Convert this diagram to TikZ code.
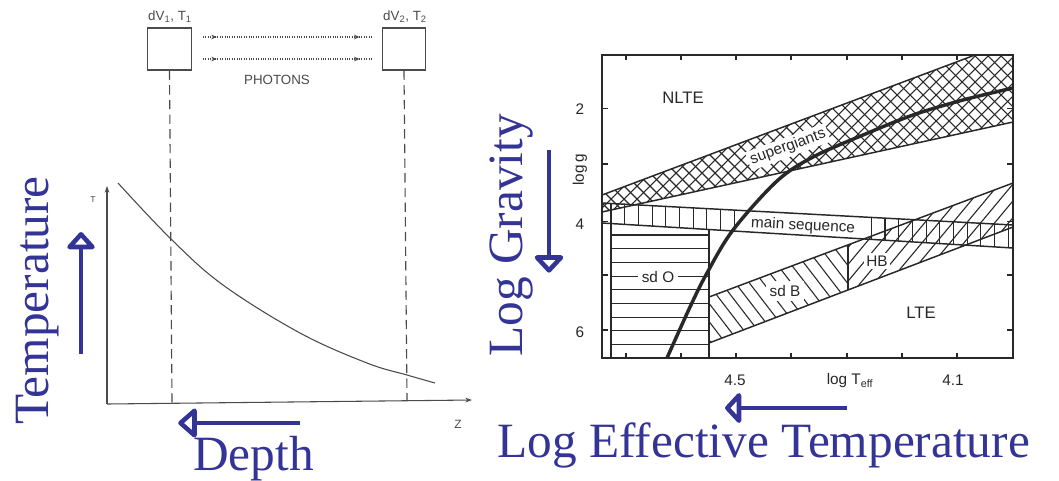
\documentclass[tikz,border=0pt]{standalone}
\usepackage{fontspec}
\setmainfont{Liberation Serif}
\setsansfont{Liberation Sans}
\usetikzlibrary{arrows.meta,decorations.markings}
\definecolor{slideblue}{RGB}{52,52,150}
\definecolor{inkL}{RGB}{75,75,75}
\definecolor{inkR}{RGB}{40,40,40}
\begin{document}
\begin{tikzpicture}[x=0.75pt,y=-0.75pt,
  lline/.style={draw=inkL,line width=0.8pt},
  rline/.style={draw=inkR,line width=1.1pt},
  hatch/.style={draw=inkR,line width=0.8pt},
  volbox/.style={draw=inkL,line width=0.85pt,minimum height=31.5pt,minimum width=32.5pt,inner sep=0pt},
  smalllbl/.style={text=inkL,font=\sffamily\fontsize{10}{11}\selectfont,inner sep=0pt},
  plotlbl/.style={text=inkR,font=\sffamily\fontsize{11.5}{12}\selectfont,inner sep=1pt},
  biglbl/.style={text=inkR,font=\sffamily\fontsize{12.5}{13}\selectfont,inner sep=1pt},
  bluelbl/.style={text=slideblue,font=\fontsize{37}{40}\selectfont,inner sep=0pt},
  bluearrow/.style={draw=slideblue,line width=3.6pt},
  bluehead/.style={draw=slideblue,fill=white,line width=3.4pt,line join=round},
  photon/.style={draw=inkL,line width=0.8pt,densely dotted,postaction={decorate},
     decoration={markings,
       mark=at position 0.08 with {\arrow{Stealth[length=4pt,width=3.5pt]}},
       mark=at position 0.92 with {\arrow{Stealth[length=4pt,width=3.5pt]}}}},
  axisarrow/.style={lline,-{Stealth[length=5pt,width=3.5pt]}},
  dashline/.style={draw=inkL,line width=0.85pt,dash pattern=on 7pt off 4pt},
]
\fill[white] (0,0) rectangle (1059,480);
\useasboundingbox (0,0) rectangle (1059,480);

% ---------------- left diagram ----------------
\node[volbox] (v1) at (169.5,49) {};
\node[volbox] (v2) at (404,49) {};
\node[smalllbl] (l1) at (170,17) {dV\textsubscript{1}, T\textsubscript{1}};
\node[smalllbl] (l2) at (405,17) {dV\textsubscript{2}, T\textsubscript{2}};
\coordinate (pa1) at (203,37);  \coordinate (pb1) at (373,37);
\coordinate (pa2) at (203,59);  \coordinate (pb2) at (373,59);
\draw[photon] (pa1) -- (pb1);
\draw[photon] (pa2) -- (pb2);
\node[smalllbl] (ph) at (277,80) {PHOTONS};

\coordinate (O) at (107,404);
\coordinate (ytop) at (107,186);
\coordinate (xend) at (472,400);
\coordinate (d1) at (172,403.5);
\coordinate (d2) at (407,400.5);
\draw[axisarrow] (O) -- (ytop);
\draw[axisarrow] (O) -- (xend);
\draw[dashline] (v1.south) -- (d1);
\draw[dashline] (v2.south) -- (d2);
\node[text=inkL,font=\sffamily\fontsize{6.5}{7}\selectfont,inner sep=0pt] (tl) at (93,200) {T};
\node[text=inkL,font=\sffamily\fontsize{9}{10}\selectfont,inner sep=0pt] (zl) at (458,424) {Z};
\draw[lline] plot[smooth,tension=0.6] coordinates {(118,183) (171,239) (223,285) (300,333) (367,363) (407,375) (435,383)};

% blue labels left
\node[bluelbl,rotate=90,anchor=base west] (temp) at (48,425) {Temperature};
\coordinate (ta) at (81,354); \coordinate (tb) at (81,247);
\draw[bluearrow] (ta) -- (tb);
\draw[bluehead] (81,234.3) -- (69.5,247) -- (92.5,247) -- cycle;

\node[bluelbl,anchor=base west] (depth) at (193,470) {Depth};
\coordinate (da) at (300,423); \coordinate (db) at (194.5,423);
\draw[bluearrow] (da) -- (db);
\draw[bluehead] (180.5,423) -- (194.5,410.7) -- (194.5,435.3) -- cycle;

% ---------------- right diagram ----------------
% supergiants cross hatch
\begin{scope}
\clip (602,195) -- (975,55) -- (1013,55) -- (1013,122) -- (602,212) -- cycle;
\foreach \k in {0,...,46} \draw[hatch] ({437+13*\k},230) -- ++(200,-200);
\foreach \k in {0,...,46} \draw[hatch] ({590+13*\k},230) -- ++(-200,-200);
\end{scope}
% main sequence vertical hatch
\begin{scope}
\clip (602,203) -- (1013,225) -- (1013,248) -- (602,223) -- cycle;
\foreach \k in {0,...,9} \draw[hatch] ({611+13.7*\k},195) -- ++(0,60);
\foreach \k in {19,...,29} \draw[hatch] ({611+13.7*\k},195) -- ++(0,60);
\end{scope}
% sd O horizontal hatch
\foreach \k in {0,...,8} \draw[hatch] (611,{235+13.7*\k}) -- (709,{235+13.7*\k});
% sd B hatch
\begin{scope}
\clip (709,297) -- (848,244.9) -- (848,290.2) -- (709,343) -- cycle;
\foreach \k in {0,...,16} \draw[hatch] ({540+14*\k},120) -- ++(200,260);
\end{scope}
% HB hatch
\begin{scope}
\clip (848,244.9) -- (1013,183) -- (1013,227) -- (848,290.2) -- cycle;
\foreach \k in {0,...,19} \draw[hatch] ({690+14*\k},370) -- ++(200,-240);
\end{scope}

% boundary lines
\draw[rline] (602,195) -- (975,55);
\draw[rline] (602,212) -- (1013,122);
\draw[rline] (602,203) -- (1013,225);
\draw[rline] (602,223) -- (1013,248);
\draw[rline] (709,297) -- (1013,183);
\draw[rline] (709,343) -- (1013,227);
\draw[rline] (848,244.9) -- (848,290.2);
\draw[rline] (611,223.5) -- (611,358);
\draw[rline] (709,229.5) -- (709,358);
\draw[rline] (602,55) rectangle (1013,358);
% ticks
\foreach \y in {108.3,164,221.5,275,330} {
  \draw[rline] (602,\y) -- ++(6,0);
  \draw[rline] (1013,\y) -- ++(-6,0);
}
\foreach \x in {626,681,736,791,847,902,957} {
  \draw[rline] (\x,358) -- ++(0,-5);
  \draw[rline] (\x,55) -- ++(0,5);
}
% NLTE/LTE border
\draw[draw=inkR,line width=2.6pt] plot[smooth,tension=0.55] coordinates {(667,358) (690,307) (707,273) (733,230) (777,181) (813,157) (863,135) (913,115) (963,100) (1013,88)};

% labels
\node[biglbl] (nlte) at (683,98) {NLTE};
\node[biglbl] (lte) at (921,313) {LTE};
\node[plotlbl,fill=white,rotate=20.3,inner sep=2pt] (sg) at (788,147) {supergiants};
\node[plotlbl,rotate=-3] (ms) at (803,226) {main sequence};
\node[plotlbl,fill=white,inner xsep=3pt,inner ysep=1pt] (sdo) at (658,277) {sd O};
\node[plotlbl,fill=white,inner sep=3pt] (sdb) at (785,291) {sd B};
\node[plotlbl,fill=white,inner sep=2pt] (hb) at (877,261) {HB};
\node[plotlbl] (y2) at (580,109) {2};
\node[plotlbl] (y4) at (580,224) {4};
\node[plotlbl] (y6) at (580,332) {6};
\node[plotlbl,rotate=90] (logg) at (580,170) {log\,g};
\node[plotlbl] (x45) at (735,380) {4.5};
\node[plotlbl] (x41) at (953,380) {4.1};
\node[plotlbl] (xl) at (850,381) {log T\textsubscript{eff}};

% blue labels right
\node[bluelbl,rotate=90,anchor=base west] (lgrav) at (522,357) {Log Gravity};
\coordinate (ga) at (549,150); \coordinate (gb) at (549,257.5);
\draw[bluearrow] (ga) -- (gb);
\draw[bluehead] (549,270.4) -- (537,257.5) -- (561,257.5) -- cycle;

\node[bluelbl,anchor=base west] (lteff) at (497,457) {Log Effective Temperature};
\coordinate (ea) at (847,408); \coordinate (eb) at (739,408);
\draw[bluearrow] (ea) -- (eb);
\draw[bluehead] (727.3,408) -- (739,395.3) -- (739,420.7) -- cycle;
\end{tikzpicture}
\end{document}
